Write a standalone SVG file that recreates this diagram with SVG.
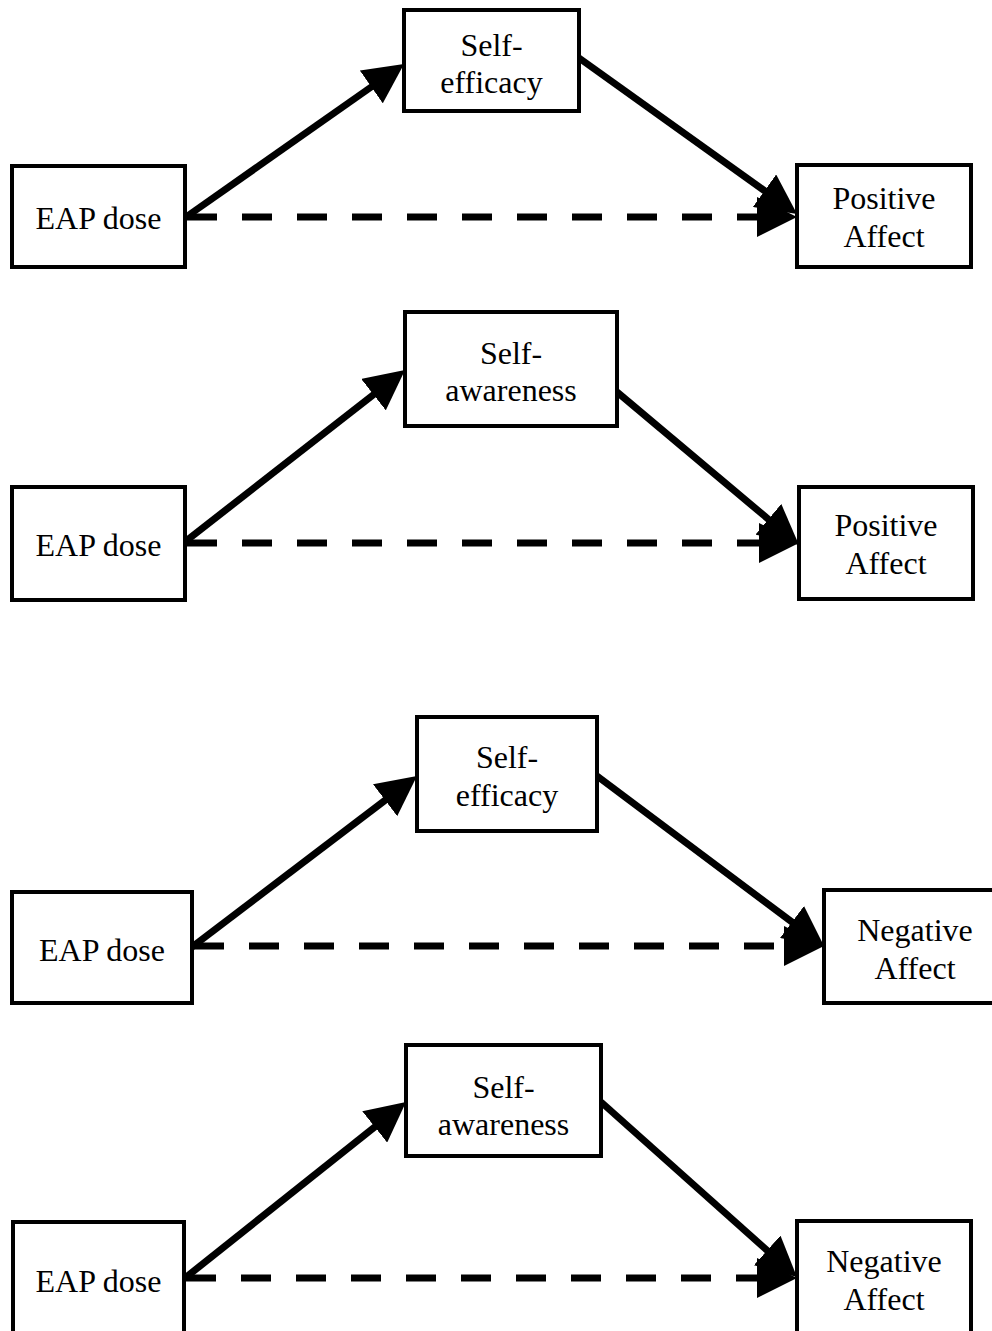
<svg xmlns="http://www.w3.org/2000/svg" width="992" height="1331" viewBox="0 0 992 1331">
<style>
.box{fill:#fff;stroke:#000;stroke-width:4}
.lbl{font-family:"Liberation Serif","Times New Roman",serif;font-size:32px;fill:#000;text-anchor:middle}
.arr{stroke:#000;stroke-width:7;fill:none;marker-end:url(#ah)}
.dash{stroke-dasharray:30 25}
</style>
<defs>
<marker id="ah" markerUnits="userSpaceOnUse" viewBox="0 0 40 40" markerWidth="40" markerHeight="40" refX="6" refY="20" orient="auto">
<path d="M0,0 L40,20 L0,40 z" fill="#000"/>
</marker>
</defs>
<rect width="992" height="1331" fill="#fff"/>

<g id="connectors">
<line class="arr" x1="186" y1="217" x2="376.2" y2="83.5"/>
<line class="arr" x1="579" y1="58" x2="769.4" y2="194.2"/>
<line class="arr dash" x1="187" y1="217" x2="763" y2="217"/>

<line class="arr" x1="186" y1="541" x2="378.2" y2="390.9"/>
<line class="arr" x1="617" y1="392" x2="773" y2="523.1"/>
<line class="arr dash" x1="187" y1="543" x2="765" y2="543"/>

<line class="arr" x1="192" y1="947" x2="389.9" y2="796.6"/>
<line class="arr" x1="597" y1="776" x2="796.8" y2="925.6"/>
<line class="arr dash" x1="194" y1="946" x2="790" y2="946"/>

<line class="arr" x1="185" y1="1278" x2="379.4" y2="1123.2"/>
<line class="arr" x1="601" y1="1102" x2="771.6" y2="1254.4"/>
<line class="arr dash" x1="186" y1="1278" x2="763" y2="1278"/>
</g>

<g id="d1-eap"><rect class="box" x="12" y="166" width="173" height="101"/><text class="lbl" x="98.5" y="229">EAP dose</text></g>
<g id="d1-selfefficacy"><rect class="box" x="404" y="10" width="175" height="101"/><text class="lbl" x="491.5" y="56">Self-</text><text class="lbl" x="491.5" y="93">efficacy</text></g>
<g id="d1-positive"><rect class="box" x="797" y="165" width="174" height="102"/><text class="lbl" x="884" y="209">Positive</text><text class="lbl" x="884" y="247">Affect</text></g>

<g id="d2-eap"><rect class="box" x="12" y="487" width="173" height="113"/><text class="lbl" x="98.5" y="556">EAP dose</text></g>
<g id="d2-selfawareness"><rect class="box" x="405" y="312" width="212" height="114"/><text class="lbl" x="511" y="364">Self-</text><text class="lbl" x="511" y="401">awareness</text></g>
<g id="d2-positive"><rect class="box" x="799" y="487" width="174" height="112"/><text class="lbl" x="886" y="536">Positive</text><text class="lbl" x="886" y="574">Affect</text></g>

<g id="d3-eap"><rect class="box" x="12" y="892" width="180" height="111"/><text class="lbl" x="102" y="961">EAP dose</text></g>
<g id="d3-selfefficacy"><rect class="box" x="417" y="717" width="180" height="114"/><text class="lbl" x="507" y="768">Self-</text><text class="lbl" x="507" y="806">efficacy</text></g>
<g id="d3-negative"><rect class="box" x="824" y="890" width="174" height="113"/><text class="lbl" x="915" y="941">Negative</text><text class="lbl" x="915" y="979">Affect</text></g>

<g id="d4-eap"><rect class="box" x="13" y="1222" width="171" height="120"/><text class="lbl" x="98.5" y="1292">EAP dose</text></g>
<g id="d4-selfawareness"><rect class="box" x="406" y="1045" width="195" height="111"/><text class="lbl" x="503.5" y="1098">Self-</text><text class="lbl" x="503.5" y="1135">awareness</text></g>
<g id="d4-negative"><rect class="box" x="797" y="1221" width="174" height="120"/><text class="lbl" x="884" y="1272">Negative</text><text class="lbl" x="884" y="1310">Affect</text></g>
</svg>
